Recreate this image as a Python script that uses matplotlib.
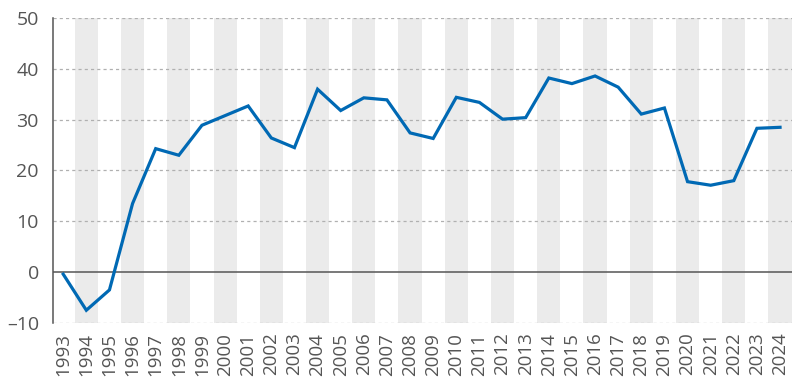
import matplotlib
matplotlib.use("Agg")
import matplotlib.pyplot as plt

years = list(range(1993, 2025))
values = [-0.4, -7.5, -3.5, 13.5, 24.3, 23.0, 28.9, 30.8, 32.7, 26.4,
          24.5, 36.0, 31.8, 34.3, 33.9, 27.4, 26.3, 34.4, 33.4, 30.1,
          30.4, 38.2, 37.1, 38.6, 36.4, 31.1, 32.3, 17.8, 17.1, 18.0,
          28.3, 28.5]
y_ticks = [-10, 0, 10, 20, 30, 40, 50]

plt.rcParams["font.family"] = ["Open Sans", "DejaVu Sans"]
text_color = "#555555"

fig = plt.figure(figsize=(8, 3.84), dpi=100)
ax = fig.add_axes([0.066, 0.159, 0.9235, 0.794])

# grey bands behind even years
for yr in years:
    if yr % 2 == 0:
        ax.axvspan(yr - 0.5, yr + 0.5, color="#ebebeb", lw=0, zorder=0)

for t in y_ticks:
    if t == 0:
        ax.axhline(0, color="#555555", lw=1.1, zorder=1)
    else:
        ax.axhline(t, color="#b0b0b0", lw=0.9, ls=(0, (2.5, 2.5)), zorder=1)

ax.plot(years, values, color="#0069b4", lw=2.3, zorder=3,
        solid_joinstyle="miter")

ax.set_xlim(1992.55, 2024.5)
ax.set_ylim(-10, 50)
ax.set_yticks(y_ticks)
ax.set_yticklabels([str(t).replace("-", "\u2013") for t in y_ticks])
ax.set_xticks(years)
ax.set_xticklabels([str(y) for y in years], rotation=90)

for s in ["top", "right", "bottom"]:
    ax.spines[s].set_visible(False)
ax.spines["left"].set_color("#555555")
ax.spines["left"].set_linewidth(1.1)

ax.tick_params(axis="y", length=0, pad=10, labelsize=14, labelcolor=text_color)
ax.tick_params(axis="x", length=0, pad=7, labelsize=13.5, labelcolor=text_color)

fig.savefig("out.png", dpi=100)
